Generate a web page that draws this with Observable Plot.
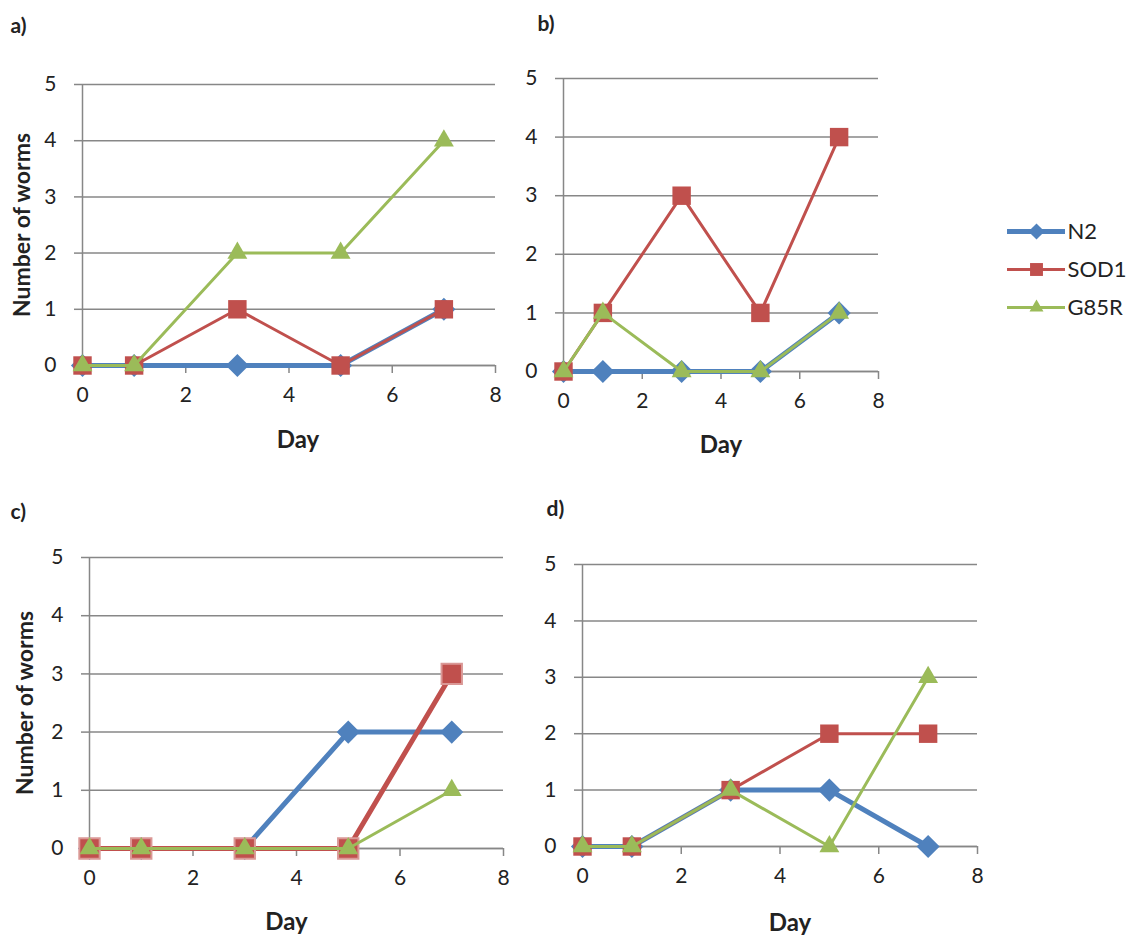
<!DOCTYPE html>
<html><head><meta charset="utf-8">
<script src="https://cdn.jsdelivr.net/npm/d3@7"></script>
<script src="https://cdn.jsdelivr.net/npm/@observablehq/plot@0.6"></script>
<style>
body{margin:0;background:#fff;}
#wrap{position:relative;width:1144px;height:940px;background:#fff;font-family:Lato,sans-serif;overflow:hidden;}
#wrap svg{position:absolute;overflow:visible;}
</style></head><body><div id="wrap"></div>
<script>
// ---- data ----
const days = [0, 1, 3, 5, 7];
const seriesNames = ["N2", "SOD1", "G85R"];
const seriesColors = ["#4F81BD", "#C0504D", "#9BBB59"];
const xTicks = [0, 2, 4, 6, 8];
const yTicks = [0, 1, 2, 3, 4, 5];
const panelLabels = ["a)", "b)", "c)", "d)"];
const xTitle = "Day";
const yTitle = "Number of worms";

const a_N2 = [0, 0, 0, 0, 1];
const a_SOD1 = [0, 0, 1, 0, 1];
const a_G85R = [0, 0, 2, 2, 4];

const b_N2 = [0, 0, 0, 0, 1];
const b_SOD1 = [0, 1, 3, 1, 4];
const b_G85R = [0, 1, 0, 0, 1];

const c_N2 = [0, 0, 0, 2, 2];
const c_SOD1 = [0, 0, 0, 0, 3];
const c_G85R = [0, 0, 0, 0, 1];

const d_N2 = [0, 0, 1, 1, 0];
const d_SOD1 = [0, 0, 1, 2, 2];
const d_G85R = [0, 0, 1, 0, 3];

const panelValues = [
  [a_N2, a_SOD1, a_G85R],
  [b_N2, b_SOD1, b_G85R],
  [c_N2, c_SOD1, c_G85R],
  [d_N2, d_SOD1, d_G85R]
];

// ---- styling / layout ----
const GRAY = "#878787";
const TXT = "#222";
const symbols = ["diamond2", "square", "triangle"];
const radii = [10.4, 10.4, 7.4];
const widths = [5, 3, 3];

const layouts = [
  {left: 0,   top: 0,   width: 505, height: 470, mt: 84, mb: 105, ml: 82, mr: 10, dayDx: 9,  dayDy: 75, yLab: true,  yLabDx: -60, lab: [-72, -58]},
  {left: 505, top: 0,   width: 388, height: 470, mt: 78, mb: 99,  ml: 58, mr: 15, dayDx: 0,  dayDy: 74, yLab: false, yLabDx: 0,   lab: [-26, -54]},
  {left: 0,   top: 470, width: 520, height: 470, mt: 87, mb: 92,  ml: 89, mr: 17, dayDx: -10, dayDy: 74, yLab: true, yLabDx: -64, lab: [-79, -45]},
  {left: 505, top: 470, width: 492, height: 470, mt: 94, mb: 94,  ml: 77, mr: 20, dayDx: 10, dayDy: 77, yLab: false, yLabDx: 0,   lab: [-36, -55]}
];

const wrap = document.getElementById("wrap");

layouts.forEach((L, p) => {
  const marks = [
    Plot.gridY(yTicks, {stroke: GRAY, strokeOpacity: 1, strokeWidth: 1.5}),
    Plot.axisY(yTicks, {tickSize: 8, tickPadding: 18, tickFormat: d3.format("d"), stroke: GRAY, strokeWidth: 1.5, strokeOpacity: 1, fill: TXT, fontSize: 21, label: null}),
    Plot.axisX(xTicks, {tickSize: 8, tickPadding: 14, tickFormat: d3.format("d"), stroke: GRAY, strokeWidth: 1.5, strokeOpacity: 1, fill: TXT, fontSize: 21, label: null}),
    Plot.ruleX([0], {stroke: GRAY, strokeWidth: 1.5}),
    Plot.ruleY([0], {stroke: GRAY, strokeWidth: 1.5})
  ];
  seriesNames.forEach((s, i) => {
    const rows = days.map((d, k) => ({day: d, value: panelValues[p][i][k], series: s}));
    const lw = (p === 2 && i === 1) ? 5 : widths[i];
    marks.push(Plot.line(rows, {x: "day", y: "value", stroke: seriesColors[i], strokeWidth: lw, strokeLinejoin: "round"}));
    const dotOpts = {x: "day", y: "value", symbol: () => symbols[i], fill: seriesColors[i], r: radii[i], stroke: "none"};
    if (p === 2 && i === 1) { dotOpts.r = 11.5; dotOpts.stroke = "#DA9896"; dotOpts.strokeWidth = 2; }
    marks.push(Plot.dot(rows, dotOpts));
  });
  marks.push(Plot.text([xTitle], {text: d => d, frameAnchor: "bottom", lineAnchor: "middle", dx: L.dayDx, dy: L.dayDy, fontWeight: "bold", fontSize: 24, fill: TXT}));
  if (L.yLab) {
    marks.push(Plot.text([yTitle], {text: d => d, frameAnchor: "left", lineAnchor: "middle", textAnchor: "middle", dx: L.yLabDx, rotate: -90, fontWeight: "bold", fontSize: 23, fill: TXT}));
  }
  marks.push(Plot.text([panelLabels[p]], {text: d => d, frameAnchor: "top-left", lineAnchor: "middle", dx: L.lab[0], dy: L.lab[1], textAnchor: "start", fontWeight: "bold", fontSize: 21, fill: TXT}));

  const chart = Plot.plot({
    width: L.width, height: L.height,
    marginTop: L.mt, marginBottom: L.mb, marginLeft: L.ml, marginRight: L.mr,
    x: {domain: [0, 8]},
    y: {domain: [0, 5]},
    symbol: {type: "identity"},
    style: {fontFamily: "Lato, sans-serif", fontSize: "21px", background: "transparent", overflow: "visible"},
    marks
  });
  chart.style.left = L.left + "px";
  chart.style.top = L.top + "px";
  wrap.appendChild(chart);
});

// ---- legend ----
const legendRows = seriesNames.map((s, i) => ({series: s, i}));
const legend = Plot.plot({
  width: 149, height: 175,
  margin: 0,
  x: {domain: [0, 1], range: [12, 70]},
  y: {type: "point", domain: seriesNames, range: [31, 146]},
  symbol: {type: "identity"},
  style: {fontFamily: "Lato, sans-serif", fontSize: "22px", background: "transparent", overflow: "visible"},
  axis: null,
  marks: [
    ...legendRows.map(r => Plot.ruleY([r], {y: "series", x1: 0, x2: 1, stroke: seriesColors[r.i], strokeWidth: widths[r.i]})),
    ...legendRows.map(r => Plot.dot([r], {y: "series", x: () => 0.5, symbol: () => symbols[r.i], fill: seriesColors[r.i], r: radii[r.i] * 0.7})),
    Plot.text(legendRows, {y: "series", x: () => 1, text: "series", textAnchor: "start", dx: 2, fontSize: 22, fill: TXT})
  ]
});
legend.style.left = "995px";
legend.style.top = "180px";
wrap.appendChild(legend);
</script></body></html>
